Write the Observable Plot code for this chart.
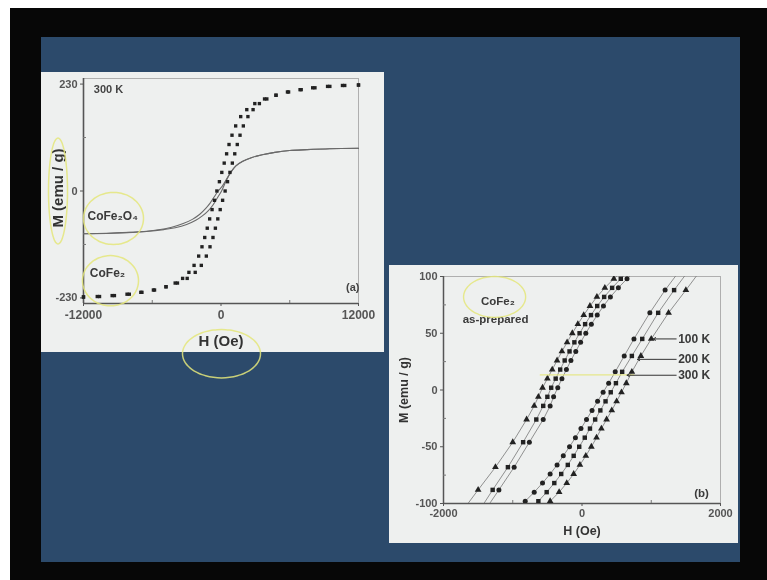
<!DOCTYPE html>
<html><head><meta charset="utf-8">
<script src="https://cdn.jsdelivr.net/npm/d3@7"></script>
<script src="https://cdn.jsdelivr.net/npm/@observablehq/plot@0.6"></script>
<style>
html,body{margin:0;padding:0;background:#fff;}
#page{position:relative;width:767px;height:580px;overflow:hidden;background:#fff;font-family:"Liberation Sans",Arial,sans-serif;}
#black{position:absolute;left:10px;top:8px;right:0;bottom:0;background:#070707;}
#slide{position:absolute;left:41px;top:37px;width:699px;height:525px;background:#2c4a6b;}
.panel{position:absolute;background:#eef0ef;}
#pa{left:41px;top:72px;width:343px;height:280px;}
#pb{left:389px;top:265px;width:349px;height:278px;}
.plot{position:absolute;filter:blur(0.35px);}
#plotA{left:41px;top:72px;}
#plotB{left:389px;top:265px;}
</style></head><body>
<div id="page">
  <div id="black"></div>
  <div id="slide"></div>
  <div class="panel" id="pa"></div>
  <div class="panel" id="pb"></div>
  <div class="plot" id="plotA"></div>
  <div class="plot" id="plotB"></div>
</div>
<script>
// ---------- Panel (a) data: 300 K loops ----------
const aXDomain = [-12000, 12000];
const aYDomain = [-242, 242];
const aXTicks = [-12000, 0, 12000];
const aXMinor = [-6000, 6000];
const aYTicks = [-230, 0, 230];
const aYMinor = [-115, 115];

// CoFe2 (dots) ascending / descending branches
const cofe2UpH = [-12000,-10800,-9500,-8200,-7000,-5900,-4800,-3800,-2950,-2250,-1720,-1280,-960,-700,-490,-280,-70,140,360,570,780,990,1200,1420,1660,1950,2350,2800,3350,4000,4800,5800,6900,8000,9300,10600,12000];
const cofe2UpM = [-228,-227,-225,-222,-218,-213,-206,-198,-188,-175,-160,-140,-120,-100,-80,-60,-40,-20,0,20,40,60,80,100,120,140,160,175,188,198,206,213,218,222,225,227,228];
const cofe2DownH = [12000,10800,9500,8200,7000,5900,4800,3800,2950,2250,1720,1280,960,700,490,280,70,-140,-360,-570,-780,-990,-1200,-1420,-1660,-1950,-2350,-2800,-3350,-4000,-4800,-5800,-6900,-8000,-9300,-10600,-12000];
const cofe2DownM = [228,227,225,222,218,213,206,198,188,175,160,140,120,100,80,60,40,20,0,-20,-40,-60,-80,-100,-120,-140,-160,-175,-188,-198,-206,-213,-218,-222,-225,-227,-228];

// CoFe2O4 (solid line) branches
const oxUpH = [-12000,-10000,-8000,-6500,-5000,-4000,-3000,-2200,-1600,-1100,-700,-350,50,450,850,1300,1900,2700,3600,4700,6000,7500,9500,12000];
const oxUpM = [-92,-91,-89,-87,-83,-79,-72,-63,-53,-42,-30,-16,0,22,40,54,64,72,78,83,87,89,91,92];
const oxDownH = [12000,9500,7500,6000,4700,3600,2700,1900,1300,850,450,100,-250,-600,-950,-1350,-1850,-2500,-3300,-4300,-5600,-7200,-9500,-12000];
const oxDownM = [92,91,89,87,83,78,72,64,54,40,24,10,0,-13,-26,-38,-50,-61,-70,-78,-84,-88,-91,-92];

const aLabels = ["300 K", "(a)", "CoFe₂O₄", "CoFe₂"];
const aLabelH = [-11100, 11500, -11650, -11450];
const aLabelM = [219, -208, -54, -176];

// hand-drawn highlight rings (presenter's marks)
const aRingCx = [-14225, -9381, -9643, 44];
const aRingCy = [0, -59, -193, -350];
const aRingRx = [830, 2618, 2444, 3404];
const aRingRy = [114, 56, 54, 52];

// ---------- Panel (b) data: CoFe2 as-prepared, 100/200/300 K ----------
const bXDomain = [-2000, 2000];
const bYDomain = [-100, 100];
const bXTicks = [-2000, 0, 2000];
const bXMinor = [-1000, 1000];
const bYTicks = [-100, -50, 0, 50, 100];
const bYMinor = [-75, -25, 25, 75];
const temps = ["100 K", "200 K", "300 K"];

const bLeftM  = [-106,-88,-68,-46,-26,-14,-6,2,10,18,26,34,42,50,58,66,74,82,90,98,106];
const bRightM = [-106,-98,-90,-82,-74,-66,-58,-50,-42,-34,-26,-18,-10,-2,6,16,30,45,68,88,106];
const b100LeftH  = [-1720,-1500,-1250,-1000,-800,-690,-630,-570,-500,-430,-360,-290,-215,-140,-60,25,115,215,330,460,600];
const b100RightH = [-600,-460,-330,-220,-120,-30,55,135,210,280,355,430,500,570,640,720,850,1000,1250,1500,1720];
const b200LeftH  = [-1480,-1290,-1070,-850,-660,-560,-500,-445,-380,-315,-250,-180,-110,-35,45,130,220,320,435,560,700];
const b200RightH = [-760,-630,-510,-400,-300,-205,-120,-40,40,115,190,265,340,415,490,580,720,870,1100,1330,1550];
const b300LeftH  = [-1400,-1200,-980,-760,-560,-460,-410,-350,-290,-225,-160,-90,-20,55,135,220,310,410,525,650,790];
const b300RightH = [-960,-820,-690,-570,-460,-360,-270,-180,-95,-15,65,145,225,305,385,480,610,750,980,1200,1420];

const legendM = [45, 27, 13];
const legendPointH = [1030, 800, 650];
const legendTextH = 1360;

const bLabels = ["CoFe₂", "as-prepared", "(b)"];
const bLabelH = [-1214, -1248, 1727];
const bLabelM = [78, 62, -91];

const bRingCx = [-1262], bRingCy = [82], bRingRx = [448], bRingRy = [18];
const bMarkH = [-602, 748], bMarkM = [13.3, 13.3];

// ---------- helpers ----------
const pairs = (H, M, series) => H.map((h, i) => ({H: h, M: M[i], series}));
const rings = (cx, cy, rx, ry) => cx.flatMap((c, k) =>
  d3.range(0, 361, 6).map(t => ({H: c + rx[k] * Math.cos(t * Math.PI / 180), M: cy[k] + ry[k] * Math.sin(t * Math.PI / 180), ring: k})));
const fmt = d => String(d);
const ring = "#e4e67a";
const font = "Liberation Sans, Arial, sans-serif";

// ---------- Plot (a) ----------
const cofe2 = [...pairs(cofe2UpH, cofe2UpM, "up"), ...pairs(cofe2DownH, cofe2DownM, "down")];
const ox = [...pairs(oxUpH, oxUpM, "up"), ...pairs(oxDownH, oxDownM, "down")];
const aText = aLabels.map((t, i) => ({t, H: aLabelH[i], M: aLabelM[i]}));

const plotA = Plot.plot({
  width: 343, height: 310,
  marginLeft: 42, marginRight: 26, marginTop: 6, marginBottom: 79,
  style: {background: "transparent", fontFamily: font, fontWeight: "bold", overflow: "visible", color: "#555"},
  x: {domain: aXDomain, label: null},
  y: {domain: aYDomain, label: null},
  marks: [
    Plot.frame({stroke: "#a0a0a0", strokeWidth: 0.8}),
    Plot.ruleX([aXDomain[0]], {stroke: "#555", strokeWidth: 1.6}),
    Plot.ruleY([aYDomain[0]], {stroke: "#555", strokeWidth: 1.6}),
    Plot.axisX(aXTicks, {tickSize: 3, tickPadding: 4, tickFormat: fmt, fontSize: 12, color: "#555", label: null}),
    Plot.axisX(aXMinor, {tickSize: -3, tickFormat: () => "", color: "#777", label: null}),
    Plot.axisY(aYTicks, {tickSize: 3, tickPadding: 3, tickFormat: fmt, fontSize: 11, color: "#555", label: null}),
    Plot.axisY(aYMinor, {tickSize: -3, tickFormat: () => "", color: "#777", label: null}),
    Plot.line(ox, {x: "H", y: "M", z: "series", stroke: "#6a6a6a", strokeWidth: 1.1, curve: "catmull-rom"}),
    Plot.dot(cofe2, {x: "H", y: "M", symbol: "square", r: 1.9, fill: "#222", stroke: "none"}),
    Plot.text(aText, {x: "H", y: "M", text: "t", textAnchor: "start", fontSize: 12, fill: "#3a3a3a",
      filter: d => d.t !== "(a)" && d.t !== "300 K"}),
    Plot.text(aText, {x: "H", y: "M", text: "t", fontSize: 11, fill: "#444", filter: d => d.t === "300 K", textAnchor: "start"}),
    Plot.text(aText, {x: "H", y: "M", text: "t", fontSize: 11, fill: "#444", filter: d => d.t === "(a)"}),
    Plot.text(["H (Oe)"], {frameAnchor: "bottom", dy: 38, lineAnchor: "middle", textAnchor: "middle", fontSize: 15, fill: "#333"}),
    Plot.text(["M (emu / g)"], {frameAnchor: "left", dx: -25, dy: -3, rotate: -90, textAnchor: "middle", lineAnchor: "middle", fontSize: 15, fill: "#333"}),
    Plot.line(rings(aRingCx, aRingCy, aRingRx, aRingRy), {x: "H", y: "M", z: "ring", stroke: ring, strokeWidth: 1.5, strokeOpacity: 0.85, curve: "catmull-rom"})
  ]
});
document.getElementById("plotA").append(plotA);

// ---------- Plot (b) ----------
const loops = [
  ...pairs(b100LeftH, bLeftM, "100 K").map(d => ({...d, b: "100L"})),
  ...pairs(b100RightH, bRightM, "100 K").map(d => ({...d, b: "100R"})),
  ...pairs(b200LeftH, bLeftM, "200 K").map(d => ({...d, b: "200L"})),
  ...pairs(b200RightH, bRightM, "200 K").map(d => ({...d, b: "200R"})),
  ...pairs(b300LeftH, bLeftM, "300 K").map(d => ({...d, b: "300L"})),
  ...pairs(b300RightH, bRightM, "300 K").map(d => ({...d, b: "300R"}))
];
const legend = temps.map((t, i) => ({t, M: legendM[i], H: legendPointH[i]}));
const bText = bLabels.map((t, i) => ({t, H: bLabelH[i], M: bLabelM[i]}));

const plotB = Plot.plot({
  width: 349, height: 278,
  marginLeft: 54, marginRight: 18, marginTop: 11, marginBottom: 40,
  style: {background: "transparent", fontFamily: font, fontWeight: "bold", overflow: "visible", color: "#555"},
  x: {domain: bXDomain, label: null},
  y: {domain: bYDomain, label: null},
  symbol: {domain: temps, range: ["triangle", "square", "circle"]},
  marks: [
    Plot.frame({stroke: "#a0a0a0", strokeWidth: 0.8}),
    Plot.ruleX([bXDomain[0]], {stroke: "#555", strokeWidth: 1.5}),
    Plot.ruleY([bYDomain[0]], {stroke: "#555", strokeWidth: 1.5}),
    Plot.axisX(bXTicks, {tickSize: 3, tickPadding: 3, tickFormat: fmt, fontSize: 11, color: "#555", label: null}),
    Plot.axisX(bXMinor, {tickSize: -3, tickFormat: () => "", color: "#777", label: null}),
    Plot.axisY(bYTicks, {tickSize: 3, tickPadding: 3, tickFormat: fmt, fontSize: 11, color: "#555", label: null}),
    Plot.axisY(bYMinor, {tickSize: -3, tickFormat: () => "", color: "#777", label: null}),
    Plot.line(loops, {x: "H", y: "M", z: "b", stroke: "#777", strokeWidth: 0.8, clip: true}),
    Plot.dot(loops, {x: "H", y: "M", symbol: "series", r: 2.5, fill: "#222", stroke: "none", clip: true}),
    Plot.line([{H: bMarkH[0], M: bMarkM[0]}, {H: bMarkH[1], M: bMarkM[1]}], {x: "H", y: "M", stroke: ring, strokeWidth: 1.4, strokeOpacity: 0.85}),
    Plot.arrow(legend, {x1: legendTextH, y1: "M", x2: "H", y2: "M", stroke: "#333", strokeWidth: 1, headLength: 4}),
    Plot.text(legend, {x: legendTextH, y: "M", text: "t", textAnchor: "start", dx: 2, fontSize: 12, fill: "#3a3a3a"}),
    Plot.text(bText, {x: "H", y: "M", text: "t", fontSize: 11.5, fill: "#3a3a3a"}),
    Plot.text(["H (Oe)"], {frameAnchor: "bottom", dy: 27, lineAnchor: "middle", textAnchor: "middle", fontSize: 12.5, fill: "#333"}),
    Plot.text(["M (emu / g)"], {frameAnchor: "left", dx: -40, rotate: -90, textAnchor: "middle", lineAnchor: "middle", fontSize: 12.5, fill: "#333"}),
    Plot.line(rings(bRingCx, bRingCy, bRingRx, bRingRy), {x: "H", y: "M", z: "ring", stroke: ring, strokeWidth: 1.4, strokeOpacity: 0.85, curve: "catmull-rom"})
  ]
});
document.getElementById("plotB").append(plotB);
</script>
</body></html>
